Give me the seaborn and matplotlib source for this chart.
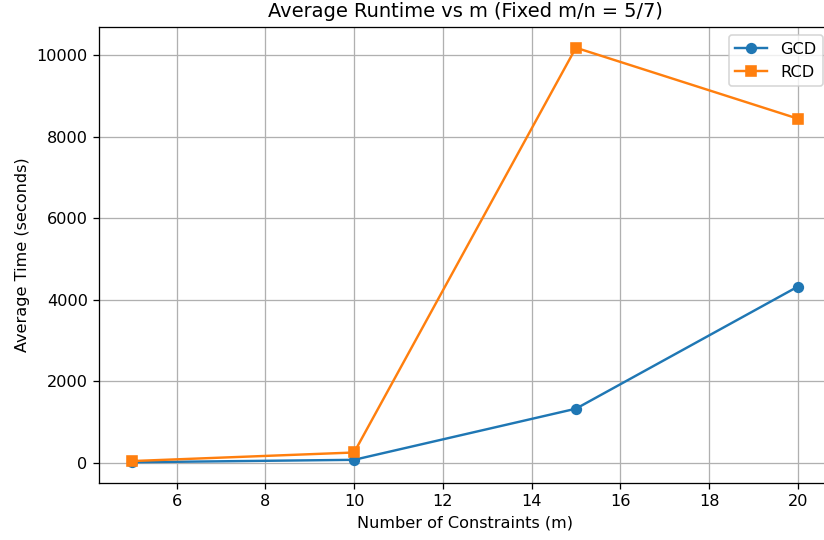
import matplotlib
matplotlib.use("Agg")
import matplotlib.pyplot as plt
import seaborn as sns
import pandas as pd

m_values = [5, 10, 15, 20]
gcd_times = [10, 70, 1325, 4320]
rcd_times = [40, 250, 10185, 8445]
methods = ["GCD", "RCD"]

df = pd.DataFrame({
    "m": m_values * 2,
    "time": gcd_times + rcd_times,
    "method": [methods[0]] * len(m_values) + [methods[1]] * len(m_values),
})

dpi = 116
fig = plt.figure(figsize=(824 / dpi, 540 / dpi), dpi=dpi)
ax = fig.add_axes([99 / 824, 57 / 540, 732 / 824, 456 / 540])

colors = {"GCD": "#1f77b4", "RCD": "#ff7f0e"}
markers = {"GCD": "o", "RCD": "s"}
for meth in methods:
    sub = df[df["method"] == meth]
    sns.lineplot(data=sub, x="m", y="time", ax=ax, color=colors[meth],
                 marker=markers[meth], markersize=6, markeredgecolor=colors[meth],
                 markeredgewidth=1, linewidth=1.5, label=meth)

ax.set_title("Average Runtime vs m (Fixed m/n = 5/7)")
ax.set_xlabel("Number of Constraints (m)")
ax.set_ylabel("Average Time (seconds)")
ax.grid(True)
ax.legend(loc="upper right")

fig.savefig("out.png", dpi=dpi)
